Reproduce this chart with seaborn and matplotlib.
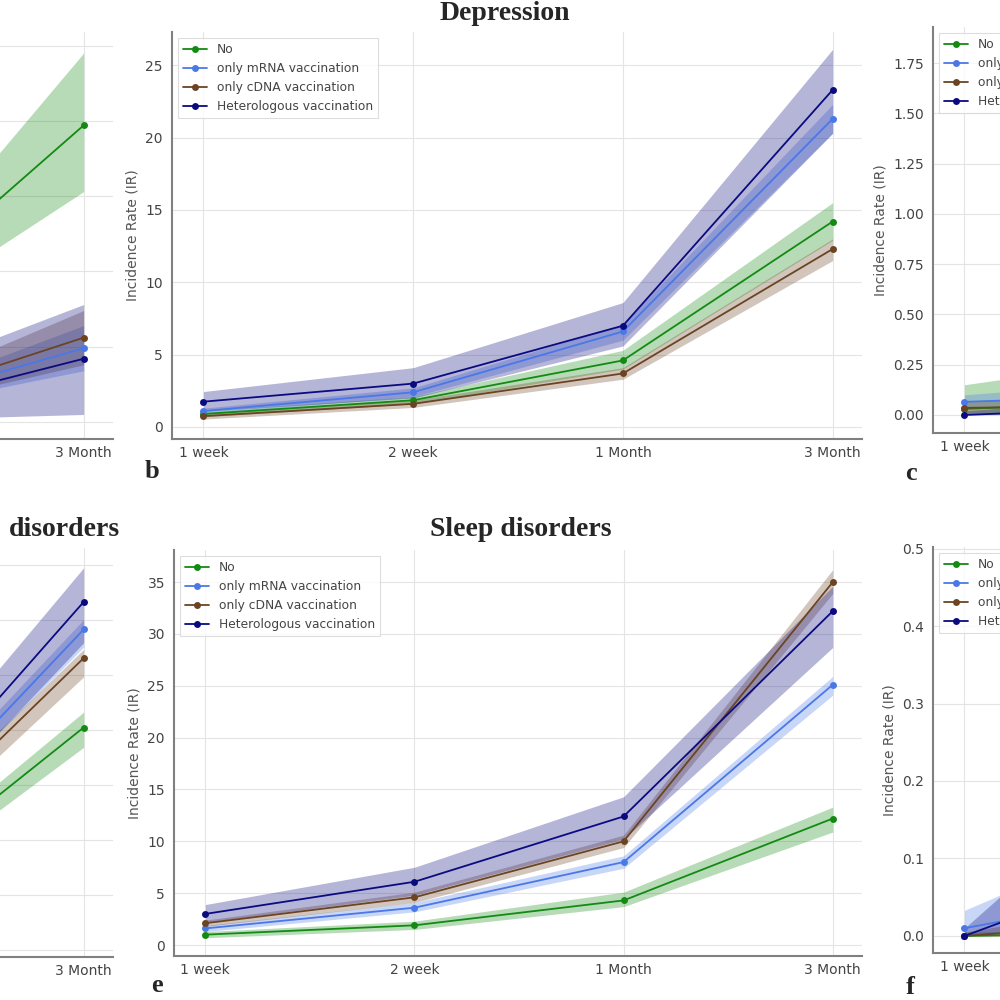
import numpy as np
import pandas as pd
import matplotlib
matplotlib.use('Agg')
import matplotlib.pyplot as plt
import seaborn as sns

# ---- data -------------------------------------------------------------
periods = ['1 week', '2 week', '1 Month', '3 Month']
groups = ['No', 'only mRNA vaccination', 'only cDNA vaccination', 'Heterologous vaccination']
colors = ['#138a13', '#4a78e6', '#6b4423', '#0b0b80']

# rows follow `groups`, columns follow `periods`
a_ir = [[1.5, 3.0, 7.5, 19.7], [0.3, 0.5, 0.9, 4.9], [0.3, 0.6, 1.05, 5.6], [0.2, 0.4, 0.65, 4.2]]
a_lo = [[0.9, 2.2, 6.2, 15.3], [0.2, 0.3, 0.6, 3.4], [0.1, 0.3, 0.6, 3.8], [0.0, 0.1, 0.1, 0.5]]
a_hi = [[2.1, 3.8, 8.0, 24.5], [0.4, 0.7, 1.2, 6.4], [0.5, 0.9, 1.5, 7.4], [0.5, 0.9, 2.5, 7.8]]

b_ir = [[0.9, 1.85, 4.6, 14.2], [1.1, 2.4, 6.6, 21.3], [0.75, 1.6, 3.7, 12.3], [1.75, 3.0, 7.0, 23.3]]
b_lo = [[0.7, 1.6, 4.0, 12.9], [0.9, 2.1, 6.0, 20.3], [0.55, 1.35, 3.3, 11.5], [1.1, 2.0, 5.6, 20.3]]
b_hi = [[1.1, 2.1, 5.3, 15.5], [1.3, 2.7, 7.1, 22.3], [0.95, 1.85, 4.1, 13.0], [2.45, 4.1, 8.6, 26.1]]

c_ir = [[0.03, 0.07, 0.3, 1.2], [0.065, 0.1, 0.35, 1.45], [0.035, 0.05, 0.2, 1.0], [0.0, 0.04, 0.25, 1.55]]
c_lo = [[0.0, 0.02, 0.15, 0.9], [0.03, 0.05, 0.25, 1.2], [0.01, 0.02, 0.12, 0.8], [0.0, 0.01, 0.15, 1.25]]
c_hi = [[0.15, 0.3, 0.5, 1.5], [0.1, 0.18, 0.45, 1.7], [0.07, 0.1, 0.3, 1.2], [0.02, 0.1, 0.38, 1.84]]

d_ir = [[1.0, 2.0, 5.0, 20.2], [1.5, 3.5, 9.0, 29.1], [1.5, 3.5, 8.0, 26.5], [2.0, 4.5, 10.0, 31.6]]
d_lo = [[0.7, 1.6, 4.2, 18.4], [1.2, 3.0, 8.2, 27.5], [1.1, 2.9, 7.0, 24.8], [1.2, 3.2, 7.8, 27.9]]
d_hi = [[1.3, 2.4, 5.8, 21.6], [1.8, 4.0, 9.8, 30.0], [1.9, 4.1, 9.0, 27.3], [2.8, 5.8, 12.0, 34.7]]

e_ir = [[1.0, 1.9, 4.3, 12.2], [1.6, 3.6, 8.0, 25.1], [2.1, 4.6, 10.0, 35.0], [3.0, 6.1, 12.4, 32.2]]
e_lo = [[0.7, 1.5, 3.7, 10.9], [1.3, 3.2, 7.4, 24.1], [1.8, 4.1, 9.4, 33.9], [2.2, 4.8, 10.2, 28.7]]
e_hi = [[1.3, 2.3, 5.1, 13.3], [1.9, 4.1, 8.6, 25.9], [2.4, 5.1, 10.6, 36.2], [3.9, 7.5, 14.3, 34.6]]

f_ir = [[0.0, 0.005, 0.05, 0.2], [0.01, 0.06, 0.15, 0.35], [0.0, 0.02, 0.1, 0.3], [0.0, 0.1, 0.2, 0.45]]
f_lo = [[0.0, 0.0, 0.03, 0.15], [0.0, 0.03, 0.1, 0.3], [0.0, 0.0, 0.05, 0.2], [0.0, 0.02, 0.1, 0.38]]
f_hi = [[0.005, 0.01, 0.07, 0.25], [0.033, 0.15, 0.2, 0.4], [0.005, 0.05, 0.15, 0.4], [0.01, 0.25, 0.3, 0.5]]

# ---- style ------------------------------------------------------------
sns.set_theme(style='whitegrid')
plt.rcParams['font.family'] = ['DejaVu Sans']
serif = ['Liberation Serif', 'DejaVu Serif']

fig = plt.figure(figsize=(10, 10), dpi=100)


def px_axes(left, top, right, bottom):
    # axes placed in pixel coords of the 1000x1000 canvas (the side columns run off the edge)
    return fig.add_axes([left / 1000, 1 - bottom / 1000, (right - left) / 1000, (bottom - top) / 1000])


def draw_panel(ax, ir, lo, hi, ylim, yticks, yfmt):
    x = list(range(len(periods)))
    for g, col, v, l, h in zip(groups, colors, ir, lo, hi):
        ax.fill_between(x, l, h, color=col, alpha=0.3, linewidth=0)
        df = pd.DataFrame({'period': x, 'ir': v})
        sns.lineplot(data=df, x='period', y='ir', ax=ax, color=col, marker='o',
                     markersize=5, markeredgewidth=0, linewidth=1.3, label=g)
    ax.set_xlim(-0.15, 3.14)
    ax.set_ylim(*ylim)
    ax.set_xticks(x)
    ax.set_xticklabels(periods)
    ax.set_yticks(yticks)
    ax.set_yticklabels([yfmt.format(t) for t in yticks])
    ax.set_xlabel('')
    ax.set_ylabel('Incidence Rate (IR)', fontsize=10, color='#555555')
    for s in ['top', 'right']:
        ax.spines[s].set_visible(False)
    for s in ['left', 'bottom']:
        ax.spines[s].set_color('#808080')
        ax.spines[s].set_linewidth(1.5)
    ax.grid(True, color='#e4e4e4', linewidth=0.8)
    ax.tick_params(direction='out', length=3, width=0.8, color='#888888',
                   labelsize=10, labelcolor='#444444')
    ax.tick_params(axis='x', pad=2)
    leg = ax.legend(loc='upper left', fontsize=8.8, frameon=True, fancybox=False)
    leg.get_frame().set_edgecolor('#d5d5d5')
    leg.get_frame().set_linewidth(0.8)
    for t in leg.get_texts():
        t.set_color('#444444')


def trim_left(ax):
    # left column lies mostly outside the canvas: only the 3 Month end shows
    ax.tick_params(labelleft=False)
    ax.set_ylabel('')
    ax.get_legend().remove()
    for lbl in ax.get_xticklabels()[:3]:
        lbl.set_visible(False)


def trim_right(ax):
    # right column lies mostly outside the canvas: only the 1 week end shows
    for lbl in ax.get_xticklabels()[1:]:
        lbl.set_visible(False)


# top row
ax_a = px_axes(-577, 32, 113, 439)
draw_panel(ax_a, a_ir, a_lo, a_hi, (-1.13, 25.9), [0, 5, 10, 15, 20, 25], '{:g}')
trim_left(ax_a)
ax_b = px_axes(172, 32, 862, 439)
draw_panel(ax_b, b_ir, b_lo, b_hi, (-0.83, 27.3), [0, 5, 10, 15, 20, 25], '{:g}')
ax_c = px_axes(933, 27, 1623, 433)
draw_panel(ax_c, c_ir, c_lo, c_hi, (-0.09, 1.93), [0, 0.25, 0.5, 0.75, 1.0, 1.25, 1.5, 1.75], '{:.2f}')
trim_right(ax_c)

# bottom row
ax_d = px_axes(-577, 548, 113, 957)
draw_panel(ax_d, d_ir, d_lo, d_hi, (-0.64, 36.5), [0, 5, 10, 15, 20, 25, 30, 35], '{:g}')
trim_left(ax_d)
ax_e = px_axes(174, 550, 862, 956)
draw_panel(ax_e, e_ir, e_lo, e_hi, (-1.06, 38.1), [0, 5, 10, 15, 20, 25, 30, 35], '{:g}')
ax_f = px_axes(933, 547, 1623, 953)
draw_panel(ax_f, f_ir, f_lo, f_hi, (-0.022, 0.502), [0, 0.1, 0.2, 0.3, 0.4, 0.5], '{:.1f}')
trim_right(ax_f)

# titles and panel letters
fig.text(0.505, 1 - 0.013, 'Depression', ha='center', va='center',
         fontsize=20, fontweight='bold', family=serif)
fig.text(0.521, 1 - 0.530, 'Sleep disorders', ha='center', va='center',
         fontsize=20, fontweight='bold', family=serif)
fig.text(0.120, 1 - 0.530, 'disorders', ha='right', va='center',
         fontsize=20, fontweight='bold', family=serif)

for letter, (px, py) in {'b': (152, 471), 'c': (911, 474), 'e': (157, 985), 'f': (910, 988)}.items():
    fig.text(px / 1000, 1 - py / 1000, letter, ha='center', va='center',
             fontsize=19, fontweight='bold', family=serif)

fig.savefig('out.png', dpi=100)
